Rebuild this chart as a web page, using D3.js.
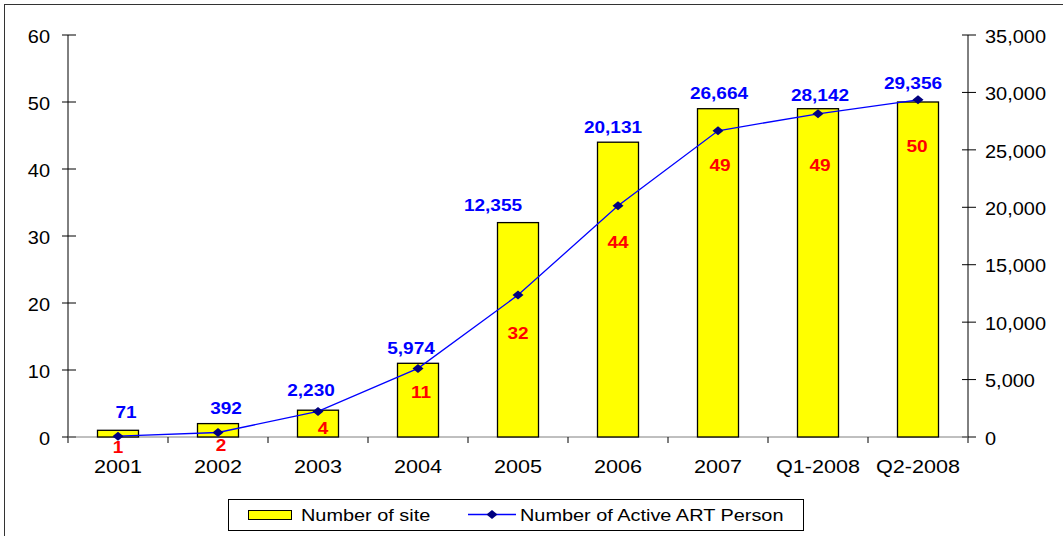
<!DOCTYPE html>
<html>
<head>
<meta charset="utf-8">
<script src="https://cdn.jsdelivr.net/npm/d3@7"></script>
<style>
  body { margin: 0; background: #fff; }
  svg { display: block; font-family: "Liberation Sans", Arial, sans-serif; }
</style>
</head>
<body>
<svg id="chart" width="1063" height="536"></svg>
<script>
// chart data
const categories = ["2001", "2002", "2003", "2004", "2005", "2006", "2007", "Q1-2008", "Q2-2008"];
const sites = [1, 2, 4, 11, 32, 44, 49, 49, 50];
const artPersons = [71, 392, 2230, 5974, 12355, 20131, 26664, 28142, 29356];
const leftTicks = [0, 10, 20, 30, 40, 50, 60];
const rightTicks = [0, 5000, 10000, 15000, 20000, 25000, 30000, 35000];

// hand-placed label nudges (px), like the moved labels in the original
const personLabelNudge = [[8, -24], [8, -24], [-7, -21], [-7, -20], [-25, -90], [-5, -79], [1, -38], [2, -19], [-5, -17]];
const siteLabelNudge = [[0, 17], [3, 21], [5, 18], [3, 29], [0, 110], [0, 100], [2, 56], [2, 56], [-1, 44]];

const svg = d3.select("#chart");
const plotLeft = 68, plotRight = 968, plotTop = 35, plotBottom = 437;

// outer frame
svg.append("rect")
    .attr("x", 4.5).attr("y", 4.5)
    .attr("width", 1070).attr("height", 540)
    .attr("fill", "none")
    .attr("stroke", "#333");

const x = d3.scaleBand().domain(categories).range([plotLeft, plotRight]).padding(0);
const yLeft = d3.scaleLinear().domain([0, 60]).range([plotBottom, plotTop]);
const yRight = d3.scaleLinear().domain([0, 35000]).range([plotBottom, plotTop]);
const cx = d => x(d) + x.bandwidth() / 2;

// text helper with slight horizontal stretch
function stretched(g, px, py, str, opts) {
    return g.append("text")
        .attr("transform", `translate(${px},${py}) scale(${opts.sx || 1},1)`)
        .attr("dy", "0.35em")
        .attr("text-anchor", opts.anchor || "middle")
        .style("font-size", opts.size + "px")
        .style("font-weight", opts.bold ? "bold" : "normal")
        .attr("fill", opts.fill || "#000")
        .text(str);
}

// left axis
const gl = svg.append("g");
gl.append("line").attr("x1", plotLeft).attr("x2", plotLeft).attr("y1", plotTop).attr("y2", plotBottom + 6).attr("stroke", "#000");
leftTicks.forEach(t => {
    gl.append("line").attr("x1", plotLeft - 6).attr("x2", plotLeft + 8)
        .attr("y1", yLeft(t)).attr("y2", yLeft(t)).attr("stroke", "#000");
    stretched(gl, 50, yLeft(t) + 1, t, { size: 19, anchor: "end", sx: 1.05 });
});

// right axis
const gr = svg.append("g");
gr.append("line").attr("x1", plotRight).attr("x2", plotRight).attr("y1", plotTop).attr("y2", plotBottom + 6).attr("stroke", "#000");
rightTicks.forEach(t => {
    gr.append("line").attr("x1", plotRight - 6).attr("x2", plotRight + 8)
        .attr("y1", yRight(t)).attr("y2", yRight(t)).attr("stroke", "#000");
    stretched(gr, 985, yRight(t) + 1, d3.format(",")(t), { size: 19, anchor: "start", sx: 1.05 });
});

// category axis
const gx = svg.append("g");
gx.append("line").attr("x1", plotLeft).attr("x2", plotRight).attr("y1", plotBottom).attr("y2", plotBottom).attr("stroke", "#808080");
categories.slice(1).forEach(c => {
    gx.append("line").attr("x1", x(c)).attr("x2", x(c))
        .attr("y1", plotBottom).attr("y2", plotBottom + 6).attr("stroke", "#000");
});
categories.forEach(c => {
    stretched(gx, cx(c), 467, c, { size: 18, sx: 1.2 });
});

// bars
const barW = x.bandwidth() * 0.41;
svg.append("g").selectAll("rect")
    .data(sites)
    .enter().append("rect")
    .attr("x", (d, i) => cx(categories[i]) - barW / 2)
    .attr("y", d => yLeft(d))
    .attr("width", barW)
    .attr("height", d => yLeft(0) - yLeft(d))
    .attr("fill", "#ffff00")
    .attr("stroke", "#000")
    .attr("stroke-width", 1.3);

// line
const line = d3.line()
    .x((d, i) => cx(categories[i]))
    .y(d => yRight(d));

svg.append("path")
    .datum(artPersons)
    .attr("d", line)
    .attr("fill", "none")
    .attr("stroke", "#0000ff")
    .attr("stroke-width", 1.3);

const diamond = "M0,-4.5L5.5,0L0,4.5L-5.5,0Z";
svg.append("g").selectAll("path")
    .data(artPersons)
    .enter().append("path")
    .attr("d", diamond)
    .attr("transform", (d, i) => `translate(${cx(categories[i])},${yRight(d)})`)
    .attr("fill", "#000080");

// data labels
const gLab = svg.append("g");
sites.forEach((d, i) => {
    const n = siteLabelNudge[i];
    stretched(gLab, cx(categories[i]) + n[0], yLeft(d) + n[1], d, { size: 17, bold: true, fill: "#ff0000", sx: 1.12 });
});
artPersons.forEach((d, i) => {
    const n = personLabelNudge[i];
    stretched(gLab, cx(categories[i]) + n[0], yRight(d) + n[1], d3.format(",")(d), { size: 17, bold: true, fill: "#0000ff", sx: 1.12 });
});

// legend
const lg = svg.append("g");
lg.append("rect").attr("x", 228.5).attr("y", 499.5).attr("width", 575).attr("height", 31)
    .attr("fill", "#fff").attr("stroke", "#000");
lg.append("rect").attr("x", 248.5).attr("y", 510.5).attr("width", 43).attr("height", 9)
    .attr("fill", "#ffff00").attr("stroke", "#000");
stretched(lg, 301, 515, "Number of site", { size: 17, anchor: "start", sx: 1.17 });
lg.append("line").attr("x1", 468).attr("x2", 516).attr("y1", 514.5).attr("y2", 514.5)
    .attr("stroke", "#0000ff").attr("stroke-width", 1.3);
lg.append("path").attr("d", diamond).attr("transform", "translate(492,514.5)").attr("fill", "#000080");
stretched(lg, 520, 515, "Number of Active ART Person", { size: 17, anchor: "start", sx: 1.17 });
</script>
</body>
</html>
